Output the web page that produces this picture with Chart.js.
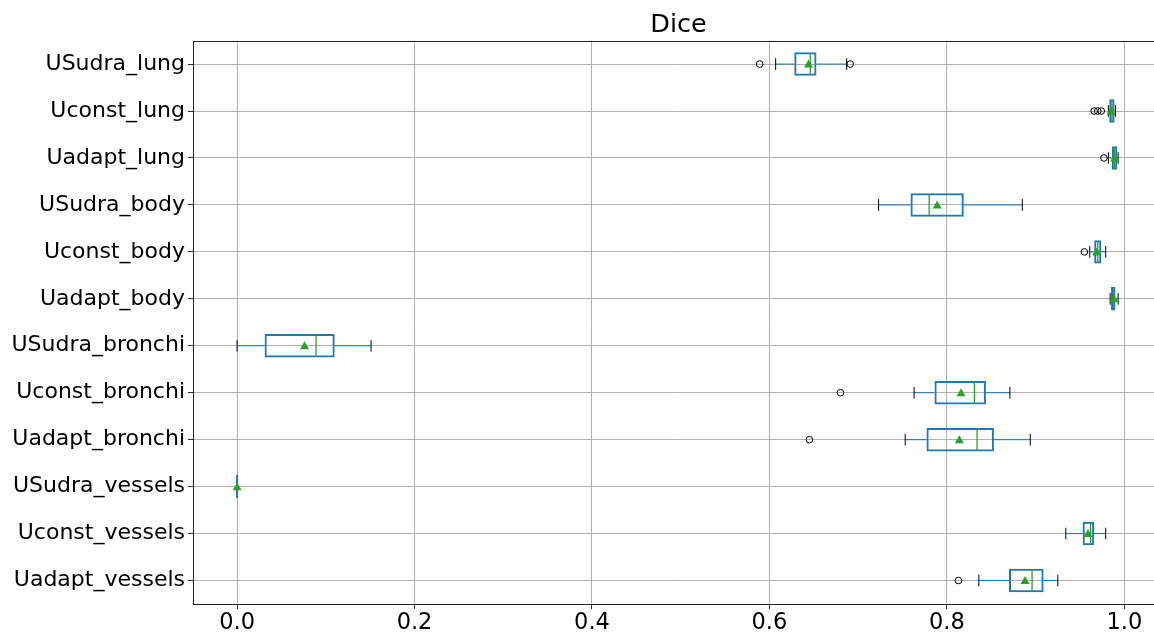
<!DOCTYPE html>
<html>
<head>
<meta charset="utf-8">
<script src="https://cdn.jsdelivr.net/npm/chart.js@4"></script>
<style>
  html, body { margin: 0; padding: 0; background: #fff; overflow: hidden; }
  #wrap { width: 1154px; height: 635px; overflow: hidden; }
</style>
</head>
<body>
<div id="wrap"><canvas id="diceChart" width="1172" height="635"></canvas></div>
<script>
// categories, top to bottom
const labels = ['USudra_lung', 'Uconst_lung', 'Uadapt_lung', 'USudra_body', 'Uconst_body', 'Uadapt_body',
    'USudra_bronchi', 'Uconst_bronchi', 'Uadapt_bronchi', 'USudra_vessels', 'Uconst_vessels', 'Uadapt_vessels'];

// box statistics
const q1       = [0.628, 0.983, 0.986, 0.759, 0.966, 0.985, 0.031, 0.786, 0.777, 0.0, 0.953, 0.870];
const q3       = [0.653, 0.989, 0.992, 0.819, 0.974, 0.990, 0.110, 0.844, 0.853, 0.0, 0.966, 0.909];
const medians  = [0.646, 0.986, 0.989, 0.780, 0.970, 0.988, 0.089, 0.831, 0.834, 0.0, 0.962, 0.896];
const means    = [0.644, 0.985, 0.989, 0.789, 0.969, 0.988, 0.076, 0.816, 0.814, 0.0, 0.959, 0.888];
const whiskLo  = [0.607, 0.982, 0.982, 0.723, 0.961, 0.984, 0.0,   0.763, 0.753, 0.0, 0.934, 0.836];
const whiskHi  = [0.687, 0.990, 0.993, 0.885, 0.979, 0.993, 0.151, 0.871, 0.894, 0.0, 0.979, 0.925];
const outliers = [[0.589, 0.691], [0.966, 0.970, 0.974], [0.977], [], [0.955], [],
    [], [0.680], [0.645], [], [], [0.813]];

const xTicks = [0.0, 0.2, 0.4, 0.6, 0.8, 1.0];

const FONT = "'DejaVu Sans', sans-serif";
const BLUE = '#1f77b4';
const GREEN = '#2ca02c';

// whiskers, caps, medians, means, fliers and the axes frame
const boxExtras = {
    id: 'boxExtras',
    afterDatasetsDraw(chart) {
        const ctx = chart.ctx;
        const xs = chart.scales.x;
        const ys = chart.scales.y;
        const area = chart.chartArea;
        const half = (ys.getPixelForValue(1) - ys.getPixelForValue(0)) * 0.25;
        const capHalf = half / 2;

        ctx.save();
        labels.forEach((lab, i) => {
            const y = ys.getPixelForValue(i);
            const lo = xs.getPixelForValue(whiskLo[i]);
            const hi = xs.getPixelForValue(whiskHi[i]);
            const b1 = xs.getPixelForValue(q1[i]);
            const b3 = xs.getPixelForValue(q3[i]);

            // whiskers
            ctx.strokeStyle = BLUE;
            ctx.lineWidth = 1;
            ctx.beginPath();
            ctx.moveTo(lo, y); ctx.lineTo(b1, y);
            ctx.moveTo(b3, y); ctx.lineTo(hi, y);
            ctx.stroke();

            // caps
            ctx.strokeStyle = '#000';
            ctx.beginPath();
            ctx.moveTo(lo, y - capHalf); ctx.lineTo(lo, y + capHalf);
            ctx.moveTo(hi, y - capHalf); ctx.lineTo(hi, y + capHalf);
            ctx.stroke();

            // degenerate box
            if (q1[i] === q3[i]) {
                ctx.strokeStyle = BLUE;
                ctx.lineWidth = 2;
                ctx.beginPath();
                ctx.moveTo(b1, y - half); ctx.lineTo(b1, y + half);
                ctx.stroke();
            } else {
                // median
                const m = xs.getPixelForValue(medians[i]);
                ctx.strokeStyle = GREEN;
                ctx.lineWidth = 1.3;
                ctx.beginPath();
                ctx.moveTo(m, y - half + 1); ctx.lineTo(m, y + half - 1);
                ctx.stroke();
            }

            // mean
            const mx = xs.getPixelForValue(means[i]);
            ctx.fillStyle = GREEN;
            ctx.beginPath();
            ctx.moveTo(mx, y - 4.5);
            ctx.lineTo(mx - 4.5, y + 3.5);
            ctx.lineTo(mx + 4.5, y + 3.5);
            ctx.closePath();
            ctx.fill();

            // fliers
            ctx.strokeStyle = '#000';
            ctx.lineWidth = 1;
            outliers[i].forEach(v => {
                ctx.beginPath();
                ctx.arc(xs.getPixelForValue(v), y, 3.3, 0, Math.PI * 2);
                ctx.stroke();
            });
        });

        // frame
        ctx.strokeStyle = '#222';
        ctx.lineWidth = 1;
        ctx.strokeRect(Math.round(area.left) + 0.5, Math.round(area.top) + 0.5,
            Math.round(area.right - area.left), Math.round(area.bottom - area.top));
        ctx.restore();
    }
};

function createDiceChart() {
    const ctx = document.getElementById('diceChart');
    if (!ctx) return;

    new Chart(ctx, {
        type: 'bar',
        data: {
            labels: labels,
            datasets: [{
                data: labels.map((l, i) => [q1[i], q3[i]]),
                backgroundColor: 'rgba(0,0,0,0)',
                borderColor: BLUE,
                borderWidth: 2,
                borderSkipped: false,
                barPercentage: 0.5,
                categoryPercentage: 1
            }]
        },
        options: {
            indexAxis: 'y',
            responsive: false,
            devicePixelRatio: 1,
            animation: false,
            layout: { padding: { left: 0, right: 8, top: 0, bottom: 0 } },
            scales: {
                x: {
                    type: 'linear',
                    min: -0.0497,
                    max: 1.0447,
                    afterBuildTicks: (scale) => {
                        scale.ticks = xTicks.map(v => ({ value: v }));
                    },
                    afterFit: (scale) => { scale.height = 31; },
                    ticks: {
                        color: '#000',
                        font: { size: 22.5, family: FONT },
                        padding: 1,
                        maxRotation: 0,
                        callback: (v) => Number(v).toFixed(1)
                    },
                    grid: { color: '#b0b0b0', tickColor: '#333', tickLength: 5, lineWidth: 1 },
                    border: { display: false }
                },
                y: {
                    type: 'category',
                    offset: true,
                    afterFit: (scale) => { scale.width = 193; },
                    ticks: {
                        color: '#000',
                        font: { size: 22, family: FONT },
                        padding: 3
                    },
                    grid: { color: '#b0b0b0', tickColor: '#333', tickLength: 5, lineWidth: 1, offset: false },
                    border: { display: false }
                }
            },
            plugins: {
                legend: { display: false },
                tooltip: { enabled: false },
                title: {
                    display: true,
                    text: 'Dice',
                    fullSize: false,
                    color: '#000',
                    font: { size: 25.5, family: FONT, weight: 'normal' },
                    padding: { top: 10, bottom: 0 }
                }
            }
        },
        plugins: [boxExtras]
    });
}

document.addEventListener('DOMContentLoaded', () => {
    createDiceChart();
});
</script>
</body>
</html>
